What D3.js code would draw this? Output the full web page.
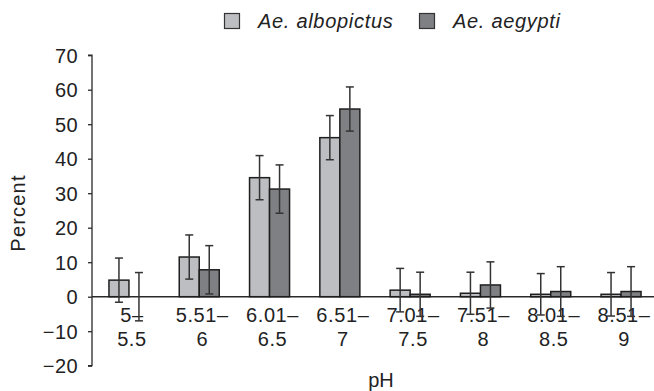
<!DOCTYPE html>
<html>
<head>
<meta charset="utf-8">
<script src="https://cdn.jsdelivr.net/npm/d3@7"></script>
<style>
  html, body { margin: 0; padding: 0; background: #fff; }
  svg { display: block; }
  text { font-family: "Liberation Sans", Arial, Helvetica, sans-serif; fill: #222; }
</style>
</head>
<body>
<script>
const categories = ["5–|5.5", "5.51–|6", "6.01–|6.5", "6.51–|7", "7.01–|7.5", "7.51–|8", "8.01–|8.5", "8.51–|9"];
const seriesNames = ["Ae. albopictus", "Ae. aegypti"];
const albopictus = [4.8, 11.5, 34.5, 46.1, 1.9, 1.0, 0.7, 0.7];
const albopictusErr = [6.4, 6.4, 6.4, 6.4, 6.3, 6.1, 6.0, 6.3];
const aegypti = [0, 7.8, 31.2, 54.4, 0.7, 3.4, 1.5, 1.5];
const aegyptiErr = [7.0, 7.0, 7.0, 6.4, 6.4, 6.7, 7.2, 7.2];
const yTicks = [-20, -10, 0, 10, 20, 30, 40, 50, 60, 70];
const colors = ["#bdbec2", "#7f8084"];

const W = 654, H = 391;
const svg = d3.select("body").append("svg").attr("width", W).attr("height", H);

const axisX = 92;
const y = d3.scaleLinear().domain([-20, 70]).range([365.7, 55.2]);
const x = d3.scaleBand().domain(categories).range([93.8, 656.2]).padding(0);
const barW = 20;
const xi = d3.scaleBand().domain(seriesNames)
  .range([x.bandwidth() / 2 - barW, x.bandwidth() / 2 + barW]).padding(0);

const data = categories.map((c, i) => ({
  cat: c,
  vals: [
    { s: seriesNames[0], v: albopictus[i], e: albopictusErr[i], k: 0 },
    { s: seriesNames[1], v: aegypti[i], e: aegyptiErr[i], k: 1 }
  ]
}));

// Y axis
const yAxis = d3.axisLeft(y).tickValues(yTicks).tickSize(4).tickPadding(10)
  .tickFormat(d => d < 0 ? "\u2212" + Math.abs(d) : String(d));
const gy = svg.append("g").attr("transform", `translate(${axisX},0)`).call(yAxis);
gy.select(".domain").attr("stroke", "#2a2a2a").attr("stroke-width", 1.3)
  .attr("d", `M-4,${y(-20)}H0V${y(70)}H-4`);
gy.selectAll(".tick line").attr("stroke", "#2a2a2a").attr("stroke-width", 1.3);
gy.selectAll(".tick text").attr("font-size", 20).attr("letter-spacing", 0.4)
  .style("font-family", '"Liberation Sans", Arial, sans-serif').attr("fill", "#222").attr("dy", "0.35em");

// X category labels (two lines)
const labG = svg.append("g");
categories.forEach(c => {
  const parts = c.split("|");
  const cx = x(c) + x.bandwidth() / 2 + 3;
  const t = labG.append("text").attr("text-anchor", "middle").attr("font-size", 20).attr("letter-spacing", 0.6);
  t.append("tspan").attr("x", cx).attr("y", 322.3).text(parts[0]);
  t.append("tspan").attr("x", cx).attr("y", 345.7).text(parts[1]);
});

// baseline at 0
svg.append("line").attr("x1", axisX).attr("x2", 654).attr("y1", y(0)).attr("y2", y(0))
  .attr("stroke", "#2a2a2a").attr("stroke-width", 1.4);

// bars
const groups = svg.append("g").selectAll("g").data(data).join("g")
  .attr("transform", d => `translate(${x(d.cat)},0)`);
groups.selectAll("rect").data(d => d.vals).join("rect")
  .attr("x", d => xi(d.s))
  .attr("width", xi.bandwidth())
  .attr("y", d => y(Math.max(0, d.v)))
  .attr("height", d => Math.abs(y(d.v) - y(0)))
  .attr("fill", d => colors[d.k])
  .attr("stroke", "#1e1e1e").attr("stroke-width", 1.5);

// error bars
const eb = groups.selectAll("g.err").data(d => d.vals).join("g").attr("class", "err")
  .attr("stroke", "#333").attr("stroke-width", 1.5);
eb.append("line")
  .attr("x1", d => xi(d.s) + xi.bandwidth() / 2).attr("x2", d => xi(d.s) + xi.bandwidth() / 2)
  .attr("y1", d => y(d.v + d.e)).attr("y2", d => y(d.v - d.e));
eb.append("line")
  .attr("x1", d => xi(d.s) + xi.bandwidth() / 2 - 4).attr("x2", d => xi(d.s) + xi.bandwidth() / 2 + 4)
  .attr("y1", d => y(d.v + d.e)).attr("y2", d => y(d.v + d.e));
eb.append("line")
  .attr("x1", d => xi(d.s) + xi.bandwidth() / 2 - 4).attr("x2", d => xi(d.s) + xi.bandwidth() / 2 + 4)
  .attr("y1", d => y(d.v - d.e)).attr("y2", d => y(d.v - d.e));

// axis titles
svg.append("text").attr("transform", `translate(25,213) rotate(-90)`)
  .attr("text-anchor", "middle").attr("font-size", 20).attr("letter-spacing", 1.2).text("Percent");
svg.append("text").attr("x", 381).attr("y", 387).attr("text-anchor", "middle")
  .attr("font-size", 20).text("pH");

// legend
const legX = [224.5, 419.5];
const leg = svg.append("g").selectAll("g").data(seriesNames).join("g")
  .attr("transform", (d, i) => `translate(${legX[i]},13.5)`);
leg.append("rect").attr("width", 15).attr("height", 15)
  .attr("fill", (d, i) => colors[i]).attr("stroke", "#333").attr("stroke-width", 1.2);
leg.append("text").attr("x", 33.5).attr("y", 14.8).attr("font-size", 20)
  .attr("font-style", "italic").attr("letter-spacing", 0.7).text(d => d);
</script>
</body>
</html>
